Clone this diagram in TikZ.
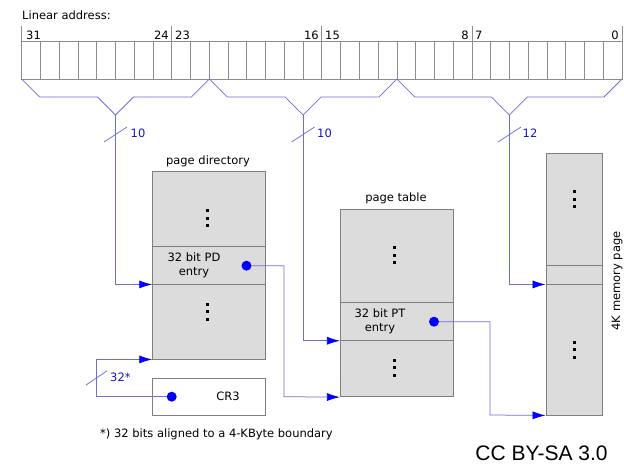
\documentclass[tikz,border=0pt]{standalone}
\usepackage{fontspec}
\setmainfont{DejaVu Sans}
\newfontfamily\ccfont{Liberation Sans}
\usetikzlibrary{arrows.meta}
\definecolor{linec}{HTML}{6E6ED8}
\definecolor{labc}{HTML}{1414C8}
\definecolor{boxfill}{HTML}{DCDCDC}
\definecolor{boxline}{HTML}{7F7F7F}
\definecolor{cellline}{HTML}{8C8C8C}
\newcommand\vdts[2]{\foreach \d in {-7.5,0,7.5} \fill ({#1-1.5},{#2+\d-1.5}) rectangle ++(3,3);}
\begin{document}
\begin{tikzpicture}[x=1pt,y=-1pt,font=\fontsize{11.5}{14}\selectfont,
  tbl/.style={draw=boxline,fill=boxfill,line width=0.9pt,inner sep=0pt,minimum width=112.6pt},
  txt/.style={inner sep=0pt,text=black},
  lab/.style={inner sep=0pt,text=labc,anchor=west},
  dotn/.style={circle,fill=blue,inner sep=0pt,minimum size=10pt},
  conn/.style={draw=linec,line width=0.75pt,-{Latex[length=13pt,width=8pt,color=blue,fill=blue]}},
  wire/.style={draw=linec,line width=0.75pt},
  cell/.style={draw=cellline,line width=0.8pt}]
\useasboundingbox (0,0) rectangle (624,465);

% linear address register
\node[txt,anchor=west] (lin) at (22,15) {Linear address:};
\node[draw=cellline,line width=0.8pt,inner sep=0pt,minimum width=600.3pt,minimum height=38pt] (reg) at (321.85,60) {};
\foreach \i in {1,...,31} \draw[cell] ({21.7+\i*18.76},41) -- ({21.7+\i*18.76},79);
\foreach \i in {0,8,16,24,32} \draw[cell] ({21.7+\i*18.76},26) -- ({21.7+\i*18.76},41);
\node[txt,anchor=west] (n31) at (26,35) {31};
\node[txt,anchor=east] (n24) at (169,35) {24};
\node[txt,anchor=west] (n23) at (175,35) {23};
\node[txt,anchor=east] (n16) at (319,35) {16};
\node[txt,anchor=west] (n15) at (325,35) {15};
\node[txt,anchor=east] (n8) at (469,35) {8};
\node[txt,anchor=west] (n7) at (475,35) {7};
\node[txt,anchor=east] (n0) at (619,35) {0};

% braces
\coordinate (b1) at (115.5,115);
\coordinate (b2) at (303.1,115);
\coordinate (b3) at (509.45,115);
\draw[wire] (21.7,79) -- (39.7,97) -- (97.5,97) -- (b1) -- (133.5,97) -- (191.3,97) -- (209.3,79);
\draw[wire] (209.3,79) -- (227.3,97) -- (285.1,97) -- (b2) -- (321.1,97) -- (378.9,97) -- (396.9,79);
\draw[wire] (396.9,79) -- (414.9,97) -- (491.45,97) -- (b3) -- (527.45,97) -- (604,97) -- (622,79);

% page directory
\node[txt] (pdl) at (208,161) {page directory};
\node[tbl,minimum height=187.3pt] (pd) at (209,265.35) {};
\node[tbl,minimum height=37.3pt] (pde) at (209,265.35) {};
\node[txt,align=center] (pdt) at (194,265) {32 bit PD\\entry};
\node[dotn] (pdd) at (246.5,265.7) {};
\vdts{207}{218.5}
\vdts{207}{311.7}

% CR3
\node[draw=boxline,line width=0.9pt,inner sep=0pt,minimum width=112.6pt,minimum height=37.3pt] (cr3) at (209,396.7) {};
\node[txt] (cr3t) at (228,396.7) {CR3};
\node[dotn] (crd) at (171.7,396.7) {};

% page table
\node[txt] (ptl) at (396,198) {page table};
\node[tbl,minimum height=187pt] (pt) at (396.7,303.2) {};
\node[tbl,minimum height=37.6pt] (pte) at (396.7,321.5) {};
\node[txt,align=center] (ptt) at (380,321) {32 bit PT\\entry};
\node[dotn] (ptd) at (434,321.7) {};
\vdts{394.7}{255.5}
\vdts{394.7}{367.5}

% memory page
\node[tbl,minimum width=56.3pt,minimum height=262pt] (mp) at (574.2,284) {};
\node[tbl,minimum width=56.3pt,minimum height=18.3pt] (mr) at (574.2,274.85) {};
\vdts{574.3}{199.5}
\vdts{574.3}{349.5}
\node[txt,rotate=90] (mpl) at (617,281) {4K memory page};

% connectors
\coordinate (j1) at (284,396.7);
\coordinate (j2) at (490,415);
\coordinate (j3) at (96.7,396.7);
\draw[conn] (b1) |- (pde.south west);
\draw[conn] (b2) |- (pte.south west);
\draw[conn] (b3) |- (mr.south west);
\draw[conn] (pdd) -| (j1) -- (pt.south west);
\draw[conn] (ptd) -| (j2) -- (mp.south west);
\draw[conn] (crd) -- (j3) |- (pd.south west);

% width marks
\draw[wire] (104,142) -- (127,127);
\draw[wire] (291.6,142) -- (314.6,127);
\draw[wire] (498,142) -- (521,127);
\draw[wire] (86,385) -- (107.3,370.7);
\node[lab] (w1) at (130.5,133.5) {10};
\node[lab] (w2) at (317,133.5) {10};
\node[lab] (w3) at (522.5,133.5) {12};
\node[lab] (w4) at (110,377.5) {32*};

% footnote and licence
\node[txt,anchor=west] (fn) at (100,434) {*) 32 bits aligned to a 4-KByte boundary};
\node[inner sep=0pt,font=\ccfont\fontsize{21}{24}\selectfont] (cc) at (541.5,453) {CC BY-SA 3.0};
\end{tikzpicture}
\end{document}
